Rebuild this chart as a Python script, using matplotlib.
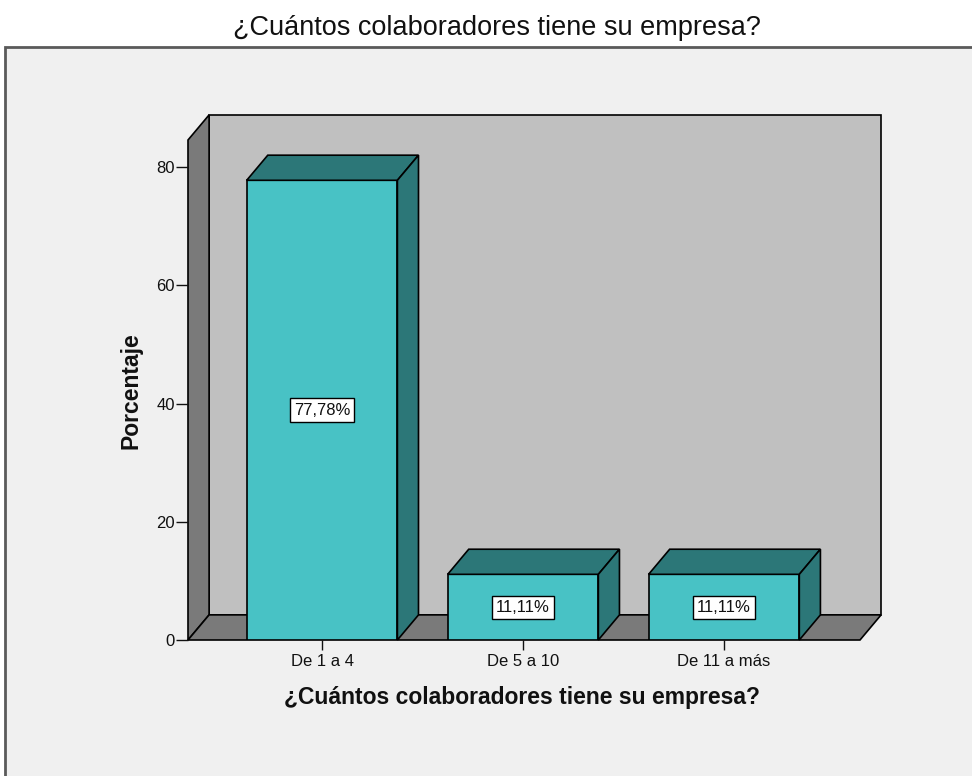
import numpy as np
import matplotlib
matplotlib.use("Agg")
import matplotlib.pyplot as plt
from matplotlib.patches import Polygon, Rectangle

plt.rcParams['font.family'] = ['Liberation Sans', 'DejaVu Sans']

# data
categories = ["De 1 a 4", "De 5 a 10", "De 11 a más"]
percent = [77.78, 11.11, 11.11]
bar_labels = ["77,78%", "11,11%", "11,11%"]
title = "¿Cuántos colaboradores tiene su empresa?"

# colours / pseudo-3d depth
front_col = '#48c2c5'
side_col = '#2c7778'
wall_col = '#c0c0c0'
floor_col = '#7a7a7a'
dx, dy = 0.105, 4.25
bar_width = 0.75

fig = plt.figure(figsize=(9.72, 7.76), dpi=100, facecolor='white')

# outer chart frame
frame = Rectangle((5 / 972, -0.01), 1.0, (776 - 47) / 776 + 0.01,
                  transform=fig.transFigure, facecolor='#f0f0f0',
                  edgecolor='#5a5a5a', linewidth=2, zorder=0)
fig.add_artist(frame)

fig.suptitle(title, x=497 / 972, y=1 - 28 / 776, va='center',
             fontsize=19.5, color='#111111')

ax = fig.add_axes([188 / 972, 136 / 776, 672 / 972, 500 / 776])
ax.patch.set_visible(False)
x0, x1 = -0.667, 2.677
ytop = 84.6
ax.set_xlim(x0, x1)
ax.set_ylim(0, ytop)
for s in ax.spines.values():
    s.set_visible(False)

ec = dict(edgecolor='black', linewidth=1.2, clip_on=False)
# back wall, left wall, floor
ax.add_patch(Polygon([(x0 + dx, dy), (x1 + dx, dy), (x1 + dx, ytop + dy),
                      (x0 + dx, ytop + dy)], facecolor=wall_col, zorder=1, **ec))
ax.add_patch(Polygon([(x0, 0), (x0 + dx, dy), (x0 + dx, ytop + dy), (x0, ytop)],
                     facecolor=floor_col, zorder=1, **ec))
ax.add_patch(Polygon([(x0, 0), (x1, 0), (x1 + dx, dy), (x0 + dx, dy)],
                     facecolor=floor_col, zorder=1, **ec))

index = np.arange(len(categories))
ax.bar(index, percent, bar_width, color=front_col, edgecolor='black',
       linewidth=1.2, zorder=3)
for i, h in zip(index, percent):
    xl, xr = i - bar_width / 2, i + bar_width / 2
    ax.add_patch(Polygon([(xl, h), (xr, h), (xr + dx, h + dy), (xl + dx, h + dy)],
                         facecolor=side_col, zorder=3, **ec))
    ax.add_patch(Polygon([(xr, 0), (xr + dx, dy), (xr + dx, h + dy), (xr, h)],
                         facecolor=side_col, zorder=3, **ec))

for i, h, lbl in zip(index, percent, bar_labels):
    ax.text(i, h / 2, lbl, ha='center', va='center', fontsize=12,
            color='#111111', zorder=5,
            bbox=dict(boxstyle='square,pad=0.25', facecolor='white',
                      edgecolor='black', linewidth=1))

ax.set_xticks(index)
ax.set_xticklabels(categories)
ax.set_yticks([0, 20, 40, 60, 80])
ax.tick_params(axis='both', labelsize=12, colors='#111111', width=1)
ax.tick_params(axis='y', length=8.5, pad=1)
ax.tick_params(axis='x', length=7, pad=3)

ax.set_xlabel(title, fontsize=16.5, fontweight='bold', color='#111111')
ax.xaxis.set_label_coords(0.497, -0.092)
ax.set_ylabel("Porcentaje", fontsize=16.5, fontweight='bold', color='#111111')
ax.yaxis.set_label_coords(-0.068, 0.498)

plt.savefig("out.png", dpi=100, facecolor='white')
